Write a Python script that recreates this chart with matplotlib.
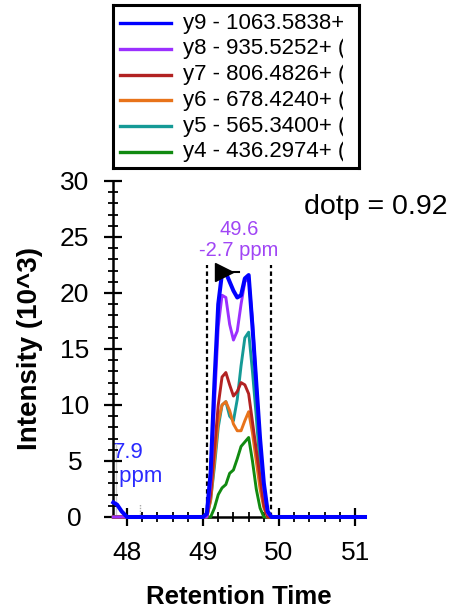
import matplotlib.pyplot as plt
from matplotlib.patches import Rectangle
from matplotlib.ticker import MultipleLocator

plt.rcParams['font.family'] = ['Liberation Sans', 'DejaVu Sans']

# retention time (min) shared by all transitions
rt = [47.82, 47.87, 47.93, 48.0, 49.0, 49.05, 49.1, 49.15, 49.2, 49.25, 49.3,
      49.35, 49.4, 49.45, 49.5, 49.55, 49.6, 49.65, 49.7, 49.75, 49.8, 49.85,
      49.9, 51.13]

y9 = [1.3, 1.1, 0.5, 0, 0, 0.3, 4, 12, 19, 21.8, 21.8, 21.0, 20.2, 19.6, 19.8,
      21.3, 21.6, 17, 12, 7, 3, 0.5, 0, 0]
y8 = [0, 0, 0, 0, 0, 0, 3, 10, 17, 19.8, 19.6, 17.2, 15.8, 16.6, 19, 21,
      21.4, 17.5, 12, 6.5, 2.5, 0.3, 0, 0]
y7 = [0, 0, 0, 0, 0, 0, 2, 6, 10, 12.5, 12.9, 11.8, 10.8, 11.2, 12, 11.8,
      11, 8.5, 6, 3.5, 1, 0, 0, 0]
y6 = [0, 0, 0, 0, 0, 0, 1.5, 5, 8.5, 10, 10.3, 9.5, 8.3, 7.7, 7.7, 8.6, 9.4,
      7.5, 5, 2.5, 0.8, 0, 0, 0]
y5 = [0, 0, 0, 0, 0, 0, 1.5, 4.5, 8, 10, 10.3, 9, 8.6, 10.5, 13.5, 16, 16.5,
      13, 9, 4.5, 1.5, 0.3, 0, 0]
y4 = [0, 0, 0, 0, 0, 0, 0, 0.8, 2, 2.6, 2.9, 3.9, 4.2, 5.2, 6.3, 6.7, 7.1, 5,
      2.5, 0.8, 0, 0, 0, 0]

labels = ['y9 - 1063.5838+ (', 'y8 - 935.5252+ (', 'y7 - 806.4826+ (',
          'y6 - 678.4240+ (', 'y5 - 565.3400+ (', 'y4 - 436.2974+ (']
colors = ['#0000FF', '#9B30FF', '#B22222', '#E8731A', '#159A96', '#118A11']
series = [y9, y8, y7, y6, y5, y4]

peak_start, peak_end = 49.05, 49.89
apex_rt, apex_int = 49.27, 21.9

fig = plt.figure(figsize=(4.54, 6.10), dpi=100)
ax = fig.add_axes([113 / 454, 1 - 517 / 610, 252 / 454, 336 / 610])

# draw from y4 up to y9 so blue ends on top
for i in range(len(series) - 1, -1, -1):
    lw = 2.9 if i == 0 else 2.1
    ax.plot(rt, series[i], color=colors[i], lw=lw, zorder=3 + (6 - i),
            clip_on=False, solid_joinstyle='round')

# integration boundaries
for x in (peak_start, peak_end):
    ax.plot([x, x], [0, 22.5], color='black', lw=1.6,
            linestyle=(0, (2, 1.5)), zorder=2)

# faint markers near left edge
ax.plot([47.86, 47.86], [0, 6.5], color='#cccccc', lw=1, zorder=1)
ax.plot([48.17, 48.17], [0, 1.2], color='#aaaaaa', lw=1,
        linestyle=(0, (1, 1)), zorder=1)

# apex marker
ax.plot([apex_rt, apex_rt + 0.2], [apex_int, apex_int], color='black',
        lw=1.5, zorder=20)
ax.plot([apex_rt], [apex_int], marker='>', color='black', markersize=13,
        zorder=21, clip_on=False)

ax.text(49.47, 25.7, '49.6', color='#A045F5', fontsize=14.5, ha='center',
        va='center')
ax.text(49.47, 23.8, '-2.7 ppm', color='#A045F5', fontsize=14.5,
        ha='center', va='center')
ax.text(47.81, 5.8, '7.9', color='#2A2AFF', fontsize=16, ha='left',
        va='center', zorder=0)
ax.text(47.81, 3.6, ' ppm', color='#2A2AFF', fontsize=16, ha='left',
        va='center', zorder=0)

fig.text(447 / 454, 1 - 207 / 610, 'dotp = 0.92', fontsize=20.5,
         ha='right', va='center')

ax.set_xlim(47.816, 51.13)
ax.set_ylim(0, 30)
ax.xaxis.set_major_locator(MultipleLocator(1))
ax.xaxis.set_minor_locator(MultipleLocator(0.2))
ax.yaxis.set_major_locator(MultipleLocator(5))
ax.yaxis.set_minor_locator(MultipleLocator(1))
for s in ('top', 'right'):
    ax.spines[s].set_visible(False)
for s in ('left', 'bottom'):
    ax.spines[s].set_linewidth(1.8)
ax.tick_params(which='major', direction='inout', length=13, width=1.6,
               labelsize=19)
ax.tick_params(which='minor', direction='inout', length=7, width=1.3)
ax.tick_params(axis='x', which='major', pad=11)
ax.tick_params(axis='y', which='major', pad=21)
for lab in ax.get_yticklabels():
    lab.set_horizontalalignment('center')
ax.set_xlabel('Retention Time', fontsize=18.5, fontweight='bold',
              labelpad=14)
ax.set_ylabel('Intensity (10^3)', fontsize=20, fontweight='bold',
              labelpad=12)

# legend box
lax = fig.add_axes([113 / 454, 1 - 168 / 610, 246 / 454, 163 / 610])
lax.set_xlim(0, 1)
lax.set_ylim(0, 1)
lax.set_xticks([])
lax.set_yticks([])
for s in lax.spines.values():
    s.set_linewidth(2.2)
clip = Rectangle((0, 0), 0.934, 1, transform=lax.transAxes)
for i, (lab, c) in enumerate(zip(labels, colors)):
    yy = 1 - (18 + 25.8 * i) / 163
    lax.plot([0.028, 0.236], [yy, yy], color=c, lw=2.4)
    t = lax.text(0.285, yy, lab, fontsize=16, va='center', ha='left')
    t.set_clip_path(clip)
    t.set_clip_on(True)

fig.savefig('out.png', dpi=100)
